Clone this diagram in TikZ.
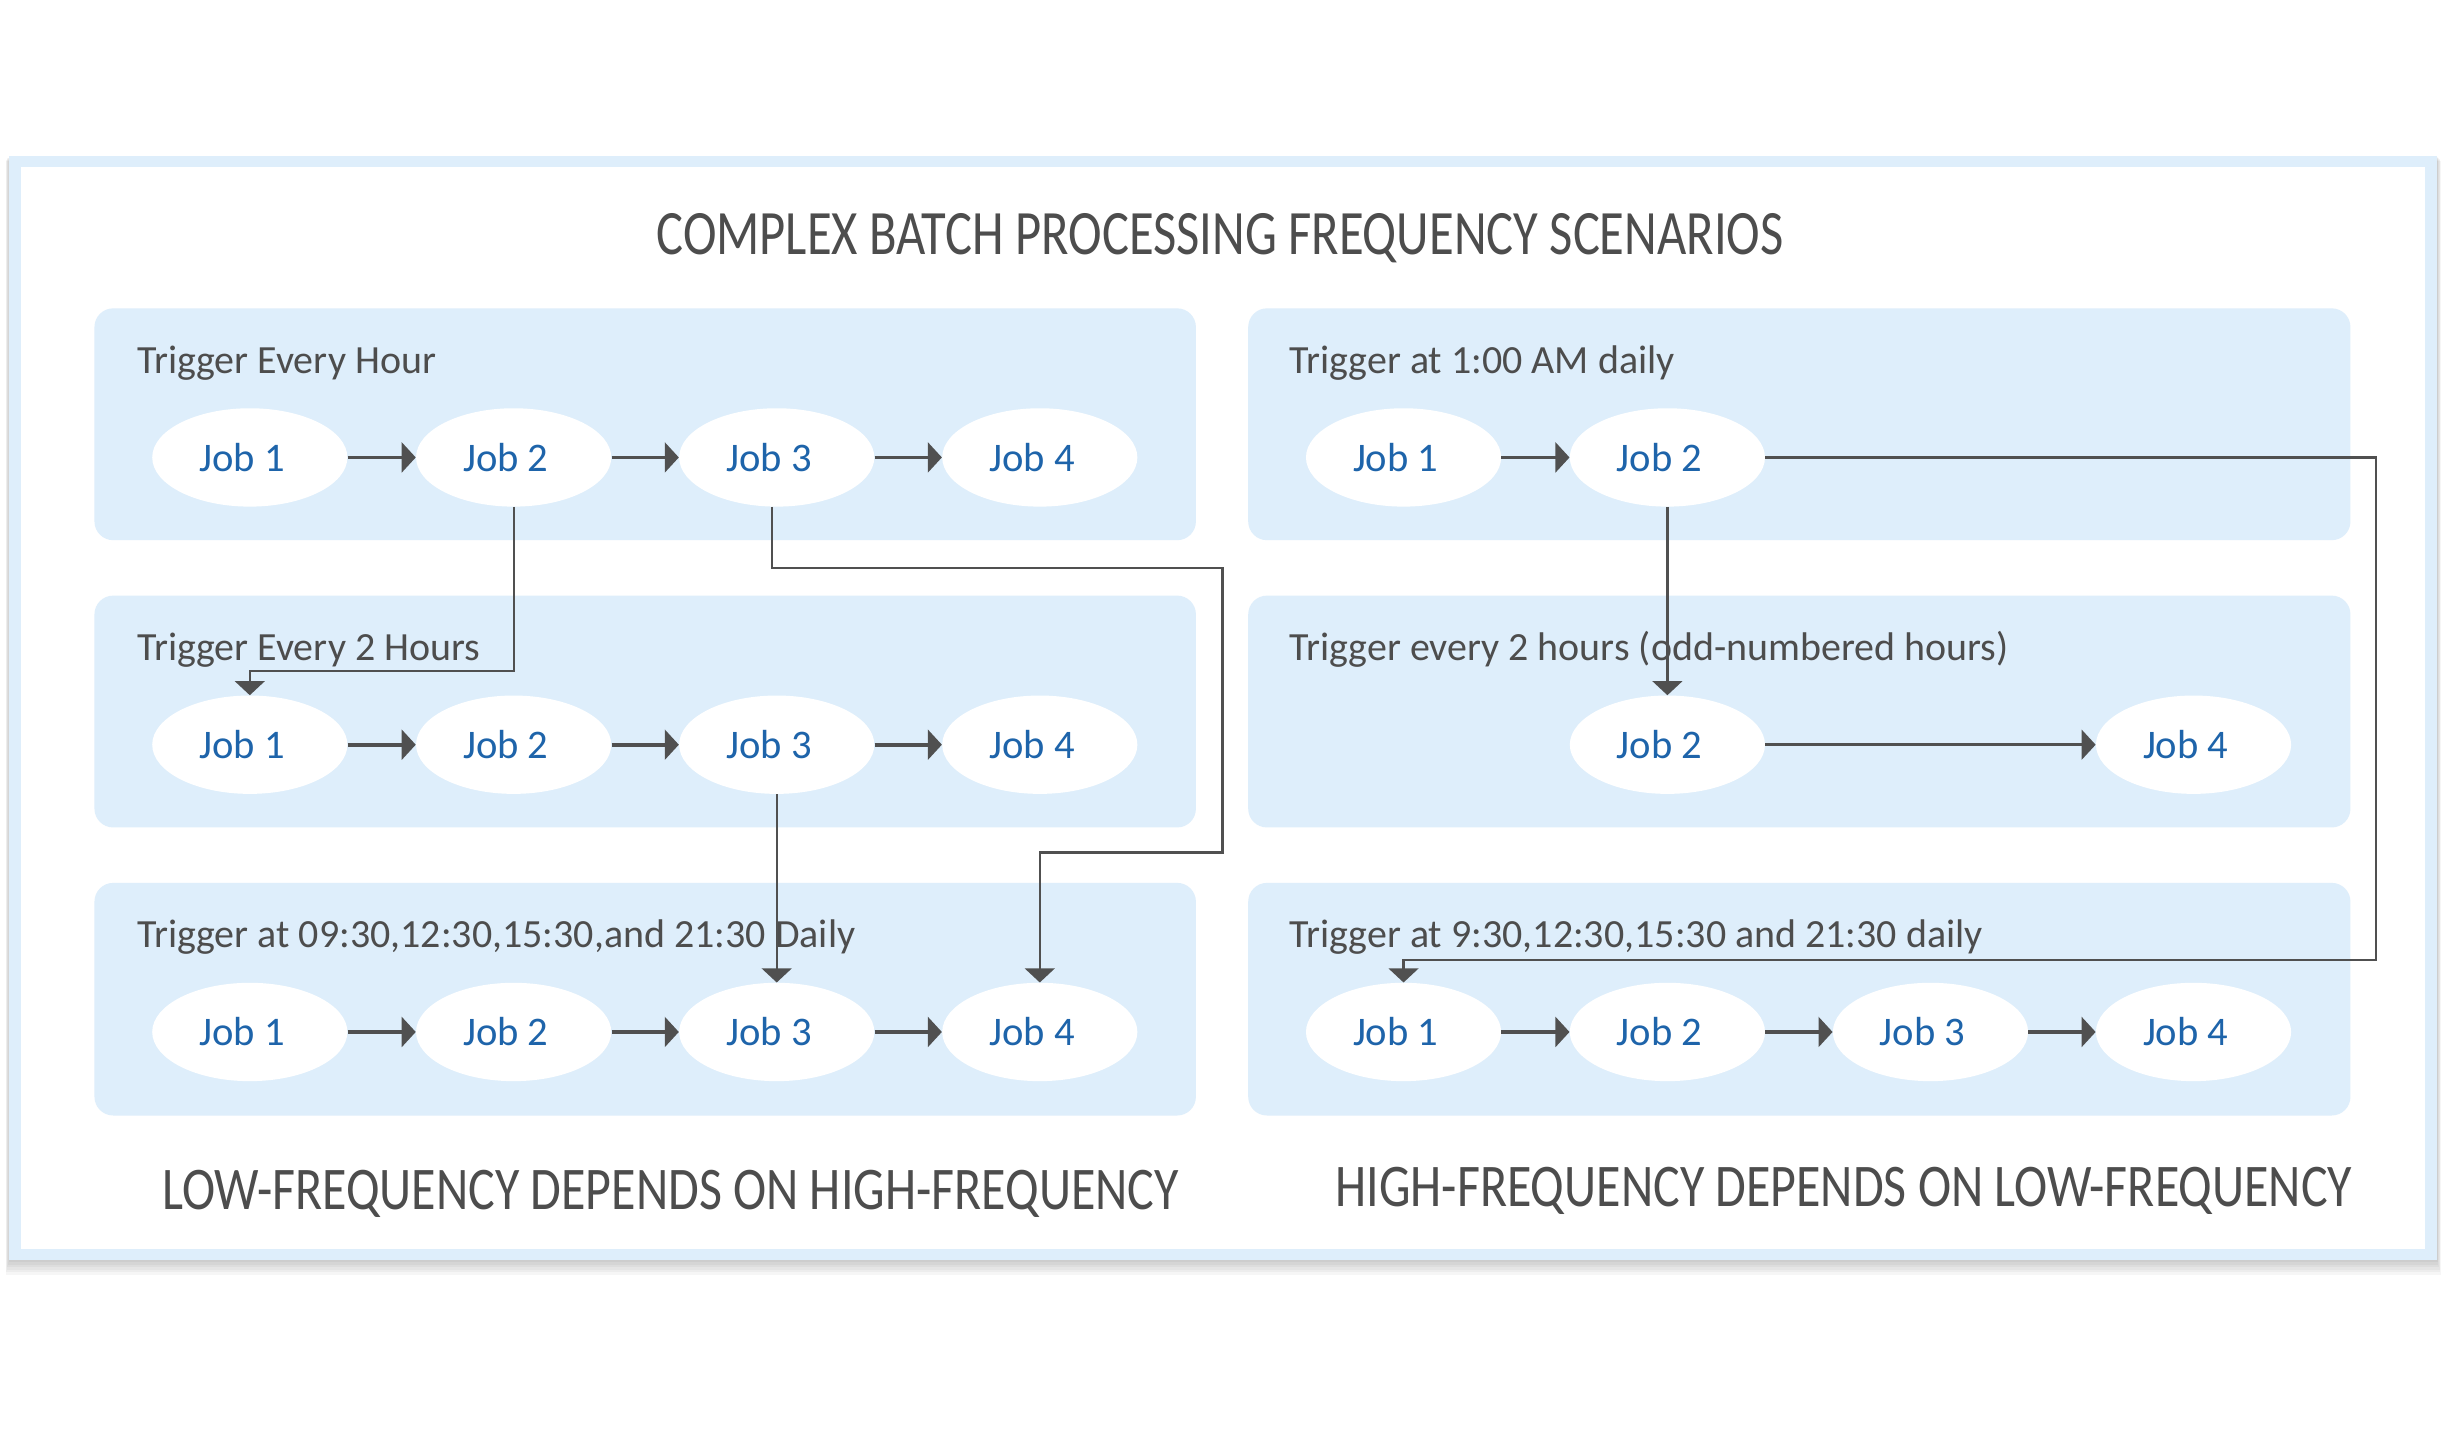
\documentclass[tikz,border=0pt]{standalone}
\usepackage{fontspec}
\setmainfont{Carlito}
\newfontfamily\capsfont{Carlito}[FakeStretch=0.8]
\newfontfamily\footfont{Carlito}[FakeStretch=0.825]
\usetikzlibrary{arrows.meta, shapes.geometric}
\definecolor{panelBlue}{RGB}{222, 238, 251}
\definecolor{lineGray}{RGB}{80, 80, 80}
\definecolor{textGray}{RGB}{77, 77, 77}
\definecolor{jobBlue}{RGB}{30, 100, 170}

\tikzset{
  job/.style={ellipse, fill=white, minimum width=125pt, minimum height=63pt, inner sep=0pt,
    text=jobBlue, font=\fontsize{26}{30}\selectfont, execute at end node={\hspace*{10pt}}},
  lbl/.style={anchor=base west, inner sep=0pt, text=textGray, font=\fontsize{25.6}{30}\selectfont},
  heading/.style={anchor=base, inner sep=0pt, text=textGray, font=\capsfont\fontsize{40.5}{46}\selectfont},
  footer/.style={anchor=base, inner sep=0pt, text=textGray, font=\footfont\fontsize{38.8}{44}\selectfont},
  panel/.style={fill=panelBlue, rounded corners=12pt},
  arr/.style={draw=lineGray, line width=2.4pt, -{Triangle[length=9pt, width=19pt]}},
  conn/.style={draw=lineGray, line width=1.4pt},
  connarr/.style={conn, -{Triangle[length=9pt, width=19pt]}}
}

\begin{document}
\begin{tikzpicture}[x=1pt, y=-1pt]
        \useasboundingbox (0,0) rectangle (1568,915);
        % outer frame with soft shadow
        \foreach \s in {1,...,6}
          \fill[black, opacity=0.035] (6-0.4*\s,100+0.5*\s) rectangle (1561+0.4*\s,807+1.6*\s);
        \fill[panelBlue] (6,100) rectangle (1561,807);
        \fill[white] (13.5,107) rectangle (1553.5,800);

        \node[heading] (title) at (781.5,163.3) {COMPLEX BATCH PROCESSING FREQUENCY SCENARIOS};

        % panels
        \fill[panel] (60.5,197.5) rectangle (766,346);
        \fill[panel] (60.5,381.5) rectangle (766,530);
        \fill[panel] (60.5,565.5) rectangle (766,714.5);
        \fill[panel] (799.5,197.5) rectangle (1505.5,346);
        \fill[panel] (799.5,381.5) rectangle (1505.5,530);
        \fill[panel] (799.5,565.5) rectangle (1505.5,714.5);

        % panel titles
        \node[lbl] (lblTL) at (87.6,239) {Trigger Every Hour};
        \node[lbl] (lblML) at (87.6,423) {Trigger Every 2 Hours};
        \node[lbl] (lblBL) at (87.6,607) {Trigger at 09:30,12:30,15:30,and 21:30 Daily};
        \node[lbl] (lblTR) at (825.7,239) {Trigger at 1:00 AM daily};
        \node[lbl] (lblMR) at (825.7,423) {Trigger every 2 hours (odd-numbered hours)};
        \node[lbl] (lblBR) at (825.7,607) {Trigger at 9:30,12:30,15:30 and 21:30 daily};

        % jobs, left side
        \node[job] (tl1) at (160,293) {Job 1};
        \node[job] (tl2) at (329,293) {Job 2};
        \node[job] (tl3) at (497.5,293) {Job 3};
        \node[job] (tl4) at (666,293) {Job 4};
        \node[job] (ml1) at (160,477) {Job 1};
        \node[job] (ml2) at (329,477) {Job 2};
        \node[job] (ml3) at (497.5,477) {Job 3};
        \node[job] (ml4) at (666,477) {Job 4};
        \node[job] (bl1) at (160,661) {Job 1};
        \node[job] (bl2) at (329,661) {Job 2};
        \node[job] (bl3) at (497.5,661) {Job 3};
        \node[job] (bl4) at (666,661) {Job 4};

        % jobs, right side
        \node[job] (tr1) at (899,293) {Job 1};
        \node[job] (tr2) at (1068,293) {Job 2};
        \node[job] (mr2) at (1068,477) {Job 2};
        \node[job] (mr4) at (1405,477) {Job 4};
        \node[job] (br1) at (899,661) {Job 1};
        \node[job] (br2) at (1068,661) {Job 2};
        \node[job] (br3) at (1236.5,661) {Job 3};
        \node[job] (br4) at (1405,661) {Job 4};

        % chains inside the panels
        \foreach \r in {tl, ml, bl, br} {
          \draw[arr] (\r1.east) -- (\r2.west);
          \draw[arr] (\r2.east) -- (\r3.west);
          \draw[arr] (\r3.east) -- (\r4.west);
        }
        \draw[arr] (tr1.east) -- (tr2.west);
        \draw[arr, line width=2pt] (mr2.east) -- (mr4.west);

        % dependencies between panels
        \coordinate (bendA) at (160,430);
        \coordinate (bendB) at (783,364);
        \coordinate (bendC) at (666,546);
        \coordinate (bendD) at (1522,615);
        \draw[connarr] (tl2.south) |- (bendA) -- (ml1.north);
        \draw[connarr] ([xshift=-3pt]tl3.south) |- (bendB) |- (bendC) -- (bl4.north);
        \draw[connarr] (ml3.south) -- (bl3.north);
        \draw[connarr] (tr2.south) -- (mr2.north);
        \draw[connarr] (tr2.east) -| (bendD) -| (br1.north);

        \node[footer] (capL) at (429.5,775) {LOW-FREQUENCY DEPENDS ON HIGH-FREQUENCY};
        \node[footer] (capR) at (1181,772.5) {HIGH-FREQUENCY DEPENDS ON LOW-FREQUENCY};
      \end{tikzpicture}
\end{document}
